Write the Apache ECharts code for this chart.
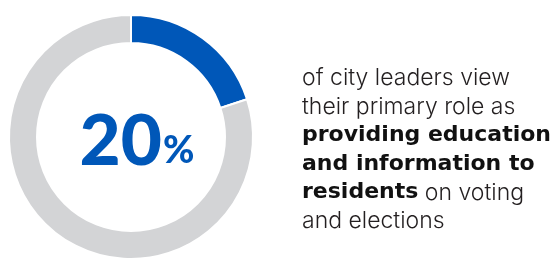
<!DOCTYPE html>
<html>
<head>
<meta charset="utf-8">
<script src="https://cdn.jsdelivr.net/npm/echarts@6/dist/echarts.min.js"></script>
<style>
  html, body { margin: 0; padding: 0; background: #ffffff; }
  #chart { width: 554px; height: 267px; }
</style>
</head>
<body>
<div id="chart"></div>
<script>
// share of city leaders
var sliceNames = ["Providing education and information", "Other"];
var sliceValues = [20, 80];
var sliceColors = ["#0057b8", "#d3d4d6"];
var bigNumber = "20";

var chart = echarts.init(document.getElementById("chart"));

var option = {
  animation: false,
  title: [
    {
      // center figure
      text: "{num|" + bigNumber + "}{pct|%}",
      left: 132,
      top: 137,
      textAlign: "center",
      textVerticalAlign: "middle",
      textStyle: {
        rich: {
          num: { fontFamily: "Lato", fontWeight: 900, fontSize: 71, color: "#0057b8", verticalAlign: "bottom" },
          pct: { fontFamily: "Lato", fontWeight: 900, fontSize: 38, color: "#0057b8", verticalAlign: "bottom", padding: [0, 0, 8, 1] }
        }
      }
    },
    {
      text: [
        "{n|of city leaders view}",
        "{n|their primary role as}",
        "{b|providing education}",
        "{b|and information to}",
        "{b|residents}{n| on voting}",
        "{n|and elections}"
      ].join("\n"),
      left: 297,
      top: 59,
      textStyle: {
        rich: {
          n: { fontFamily: "Inter", fontWeight: 300, fontSize: 23, color: "#231f20", lineHeight: 28.6 },
          b: { fontFamily: "DejaVu Sans", fontWeight: "bold", fontSize: 22, color: "#111111", lineHeight: 28.6 }
        }
      }
    }
  ],
  series: [
    {
      type: "pie",
      center: [131, 137],
      radius: [94, 122],
      startAngle: 90,
      clockwise: true,
      silent: true,
      label: { show: false },
      labelLine: { show: false },
      itemStyle: { borderColor: "#ffffff", borderWidth: 2 },
      data: sliceValues.map(function (v, i) {
        return { name: sliceNames[i], value: v, itemStyle: { color: sliceColors[i] } };
      })
    }
  ]
};

chart.setOption(option);
</script>
</body>
</html>
